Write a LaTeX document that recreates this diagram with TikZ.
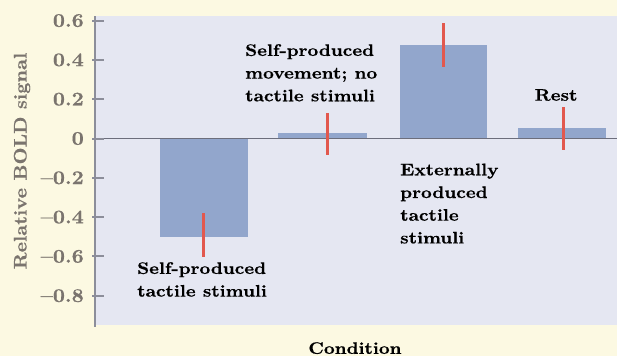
\documentclass[tikz,border=0pt]{standalone}
\usepackage{fontspec}
\newfontfamily\lblfont{lmroman10-bold.otf}[FakeStretch=1.12,FakeBold=0.6]
\newfontfamily\axfont{lmroman10-bold.otf}[FakeStretch=1.08,FakeBold=0.4]
\definecolor{cream}{RGB}{252,249,226}
\definecolor{plotbg}{RGB}{229,231,242}
\definecolor{barblue}{RGB}{146,166,204}
\definecolor{errred}{RGB}{226,88,78}
\definecolor{zeroline}{RGB}{108,110,124}
\definecolor{axisgray}{RGB}{140,142,154}
\definecolor{ticktext}{RGB}{122,116,110}
\begin{document}
\begin{tikzpicture}[x=1pt,y=-1pt,
  bar/.style={fill=barblue},
  errbar/.style={draw=errred,line width=3pt},
  ticklbl/.style={anchor=east,inner sep=0pt,text=ticktext,font=\axfont\fontsize{19.5}{22}\selectfont},
  lbl/.style={inner sep=0pt,align=left,font=\lblfont\fontsize{16.7}{22.7}\selectfont},
]
\useasboundingbox (0,0) rectangle (617,356);
\fill[cream] (0,0) rectangle (617,356);
\fill[plotbg] (95,16) rectangle (617,325);
% bars
\fill[bar] (160,138.5) rectangle (248,{138.5+196.5*0.5});
\fill[bar] (278,138.5) rectangle (367,{138.5-196.5*0.027});
\fill[bar] (400,138.5) rectangle (487,{138.5-196.5*0.475});
\fill[bar] (518,138.5) rectangle (606,{138.5-196.5*0.053});
% zero line
\draw[zeroline,line width=1.8pt] (95,138.5) -- (617,138.5);
% error bars
\draw[errbar] (203,213) -- (203,257);
\draw[errbar] (327,113) -- (327,155);
\draw[errbar] (443,23) -- (443,67);
\draw[errbar] (563,107) -- (563,150);
% axis
\draw[axisgray,line width=2.5pt] (95,16) -- (95,327);
\foreach \v/\t in {0.6/0.6,0.4/0.4,0.2/0.2,0/0,-0.2/–0.2,-0.4/–0.4,-0.6/–0.6,-0.8/–0.8}{
  \draw[axisgray,line width=2pt] (92,{138.5-196.5*\v}) -- (104,{138.5-196.5*\v});
  \node[ticklbl] (t\v) at (84,{138.5-196.5*\v}) {\t};
}
\node[text=ticktext,font=\axfont\fontsize{18.2}{22}\selectfont,rotate=90,inner sep=0pt] (ylab) at (22,161) {Relative BOLD signal};
% labels
\node[lbl,anchor=north west] (l2) at (245,44) {Self-produced\\movement; no\\tactile stimuli};
\node[lbl,anchor=north west] (l3) at (400,163.5) {Externally\\produced\\tactile\\stimuli};
\node[lbl,anchor=north west] (l1) at (137,262) {Self-produced\\tactile stimuli};
\node[lbl,anchor=north] (l4) at (556,89) {Rest};
\node[lbl,anchor=north] (xlab) at (355,342) {Condition};
\end{tikzpicture}
\end{document}
